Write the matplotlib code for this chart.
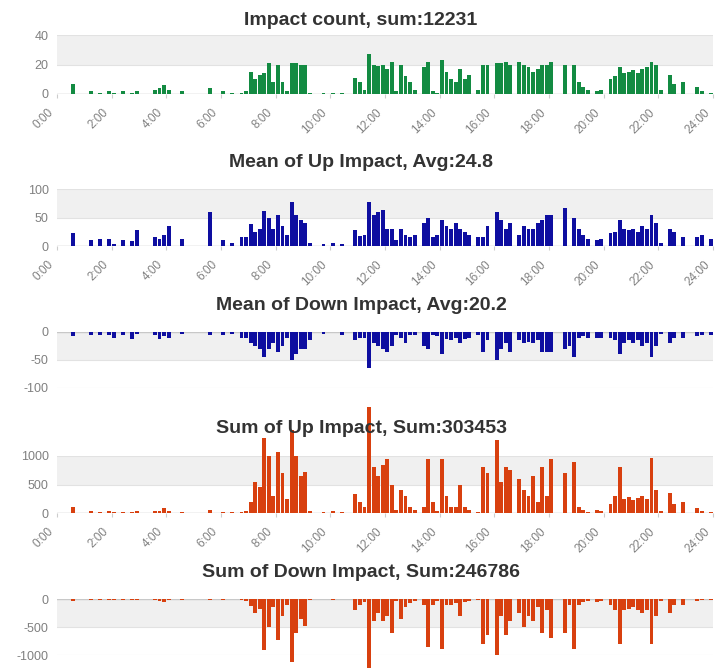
import matplotlib
matplotlib.use("Agg")
import matplotlib.pyplot as plt
import matplotlib.transforms as mtransforms
import numpy as np

plt.rcParams['font.family'] = ['Liberation Sans', 'DejaVu Sans']

# ---- data: 10-minute bins, one row per hour (0:00 .. 23:00) ----
impact_count = [
    [0, 0, 0, 7, 0, 0], [0, 2, 0, 1, 0, 2], [1, 0, 2, 0, 1, 2], [0, 0, 0, 3, 4, 6],
    [3, 0, 0, 2, 0, 0], [0, 0, 0, 4, 0, 0], [2, 0, 1, 0, 1, 2], [15, 10, 13, 14, 21, 8],
    [20, 8, 2, 21, 21, 20], [20, 1, 0, 0, 1, 0], [1, 0, 1, 0, 0, 11], [8, 3, 27, 20, 19, 20],
    [17, 22, 2, 20, 12, 8], [3, 0, 18, 22, 2, 1], [23, 15, 10, 8, 17, 10], [13, 0, 3, 20, 20, 0],
    [21, 21, 22, 20, 0, 22], [20, 18, 15, 17, 20, 20], [22, 0, 0, 20, 0, 20], [8, 5, 3, 0, 2, 3],
    [0, 10, 12, 18, 14, 15], [16, 14, 17, 18, 22, 20], [3, 0, 13, 7, 0, 8], [0, 0, 5, 2, 0, 1],
]
mean_up = [
    [0, 0, 0, 22, 0, 0], [0, 10, 0, 12, 0, 12], [3, 0, 10, 0, 8, 28], [0, 0, 0, 15, 12, 20],
    [35, 0, 0, 12, 0, 0], [0, 0, 0, 60, 0, 0], [10, 0, 5, 0, 15, 15], [38, 25, 30, 62, 50, 30],
    [55, 35, 20, 78, 55, 45], [40, 5, 0, 0, 3, 0], [5, 0, 3, 0, 0, 28], [18, 20, 78, 55, 60, 63],
    [30, 30, 10, 30, 20, 15], [20, 0, 40, 50, 15, 20], [45, 35, 30, 40, 30, 25], [20, 0, 15, 15, 35, 0],
    [60, 45, 30, 40, 0, 20], [35, 30, 30, 40, 45, 55], [55, 0, 0, 66, 0, 50], [30, 20, 12, 0, 10, 12],
    [0, 22, 25, 45, 30, 28], [30, 25, 35, 30, 55, 40], [5, 0, 30, 25, 0, 15], [0, 0, 15, 20, 0, 12],
]
mean_down = [
    [0, 0, 0, -8, 0, 0], [0, -5, 0, -5, 0, -5], [-10, 0, -5, 0, -12, -3], [0, 0, 0, -5, -12, -8],
    [-10, 0, 0, -3, 0, 0], [0, 0, 0, -5, 0, 0], [-5, 0, -3, 0, -10, -10], [-20, -25, -30, -45, -30, -20],
    [-35, -25, -10, -50, -40, -30], [-30, -15, 0, 0, -3, 0], [0, 0, -5, 0, 0, -15], [-10, -10, -65, -20, -25, -30],
    [-35, -25, -5, -10, -20, -5], [-5, 0, -25, -30, -5, -8], [-40, -12, -15, -10, -20, -12], [-10, 0, -5, -35, -15, 0],
    [-50, -30, -20, -35, 0, -15], [-20, -18, -20, -15, -35, -35], [-35, 0, 0, -30, -25, -45], [-10, -8, -10, 0, -10, -10],
    [0, -10, -15, -40, -20, -15], [-20, -15, -25, -20, -45, -25], [-3, 0, -20, -10, 0, -10], [0, 0, -8, -5, 0, -5],
]
sum_up = [
    [0, 0, 0, 100, 0, 0], [0, 30, 0, 25, 0, 30], [20, 0, 25, 0, 20, 30], [0, 0, 0, 40, 30, 80],
    [40, 0, 0, 20, 0, 0], [0, 0, 0, 60, 0, 0], [15, 0, 10, 0, 20, 40], [200, 544, 450, 1316, 1000, 300],
    [1070, 700, 250, 1450, 1000, 650], [720, 30, 0, 0, 10, 0], [30, 0, 10, 0, 0, 330], [200, 100, 1860, 800, 650, 850],
    [950, 500, 50, 400, 300, 100], [50, 0, 100, 950, 200, 30], [950, 300, 100, 100, 500, 100], [50, 0, 20, 800, 700, 0],
    [1280, 550, 800, 750, 0, 600], [400, 300, 650, 200, 800, 300], [940, 0, 0, 700, 0, 900], [100, 50, 20, 0, 60, 30],
    [0, 150, 300, 800, 250, 280], [220, 260, 300, 250, 960, 400], [30, 0, 350, 150, 0, 200], [0, 0, 80, 40, 0, 10],
]
sum_down = [
    [0, 0, 0, -30, 0, 0], [0, -10, 0, -10, 0, -10], [-10, 0, -10, 0, -10, -20], [0, 0, 0, -20, -30, -60],
    [-20, 0, 0, -10, 0, 0], [0, 0, 0, -15, 0, 0], [-10, 0, -5, 0, -10, -30], [-120, -250, -180, -912, -500, -150],
    [-732, -300, -100, -1122, -600, -350], [-480, -20, 0, 0, -5, 0], [-20, 0, -5, 0, 0, -200], [-100, -50, -1300, -400, -250, -400],
    [-300, -600, -30, -350, -150, -80], [-30, 0, -100, -852, -100, -30], [-900, -100, -100, -80, -300, -50], [-40, 0, -20, -800, -650, 0],
    [-1000, -300, -650, -400, 0, -250], [-500, -300, -400, -150, -600, -200], [-700, 0, 0, -600, -100, -900], [-100, -50, -30, 0, -50, -40],
    [0, -100, -200, -800, -200, -180], [-150, -200, -250, -200, -800, -300], [-30, 0, -250, -100, 0, -100], [0, 0, -30, -10, 0, -10],
]

bin_minutes = 10
x_tick_hours = list(range(0, 25, 2))
x_tick_labels = [f"{h}:00" for h in x_tick_hours]

titles = [
    "Impact count, sum:12231",
    "Mean of Up Impact, Avg:24.8",
    "Mean of Down Impact, Avg:20.2",
    "Sum of Up Impact, Sum:303453",
    "Sum of Down Impact, Sum:246786",
]
y_ticks = [[0, 20, 40], [0, 50, 100], [0, -50, -100], [0, 500, 1000], [0, -500, -1000]]
y_tick_labels = [["0", "20", "40"], ["0", "50", "100"], ["0", "-50", "-100"],
                 ["0", "500", "1000"], ["0", "-500", "-1000"]]

# ---- layout (pixels) ----
W, H = 715, 668
fig = plt.figure(figsize=(W / 100, H / 100), dpi=100)
left_px, right_px = 57, 713

panels = [
    dict(data=impact_count, color="#138b42", top=35, bottom=94, ylim=(0, 40), band=(20, 40), xl=True, tb=25),
    dict(data=mean_up, color="#0e0ea0", top=189, bottom=246, ylim=(0, 100), band=(50, 100), xl=True, tb=167),
    dict(data=mean_down, color="#0e0ea0", top=332, bottom=388, ylim=(-100, 0), band=(-50, 0), xl=False, tb=310),
    dict(data=sum_up, color="#d8400f", top=456, bottom=513, ylim=(0, 1000), band=(500, 1000), xl=True, tb=433),
    dict(data=sum_down, color="#d8400f", top=599, bottom=655, ylim=(-1000, 0), band=(-500, 0), xl=False, tb=577),
]

label_shift = mtransforms.ScaledTranslation(-5 / 100, 0, fig.dpi_scale_trans)

for i, p in enumerate(panels):
    vals = np.ravel(np.array(p["data"], dtype=float))
    t = (np.arange(len(vals)) + 0.5) * bin_minutes / 60.0
    ax = fig.add_axes([left_px / W, 1 - p["bottom"] / H, (right_px - left_px) / W,
                       (p["bottom"] - p["top"]) / H])
    ax.set_xlim(0, 24)
    ax.set_ylim(*p["ylim"])
    ax.axhspan(p["band"][0], p["band"][1], color="#f0f0f0", zorder=0, lw=0)
    for yv in y_ticks[i]:
        ax.axhline(yv, color="#e2e2e2", lw=0.8, zorder=1)
    ax.axhline(0, color="#c8c8c8", lw=1.0, zorder=2)
    ax.bar(t, vals, width=0.14, color=p["color"], linewidth=0, zorder=3, clip_on=False)
    for s in ax.spines.values():
        s.set_visible(False)
    ax.set_yticks(y_ticks[i])
    ax.set_yticklabels(y_tick_labels[i])
    ax.tick_params(axis="y", length=0, pad=6, labelsize=9, labelcolor="#808080")
    if p["xl"]:
        ax.set_xticks(x_tick_hours)
        ax.set_xticklabels(x_tick_labels, rotation=45, ha="right", va="center",
                           rotation_mode="anchor")
        ax.tick_params(axis="x", length=3, width=0.8, color="#cccccc", pad=9,
                       labelsize=8.5, labelcolor="#808080")
        for lab in ax.get_xticklabels():
            lab.set_transform(lab.get_transform() + label_shift)
    else:
        ax.set_xticks([])
    fig.text(361 / W, 1 - p["tb"] / H, titles[i], ha="center", va="baseline",
             fontsize=14, fontweight="bold", color="#333333")

fig.savefig("out.png", dpi=100)
